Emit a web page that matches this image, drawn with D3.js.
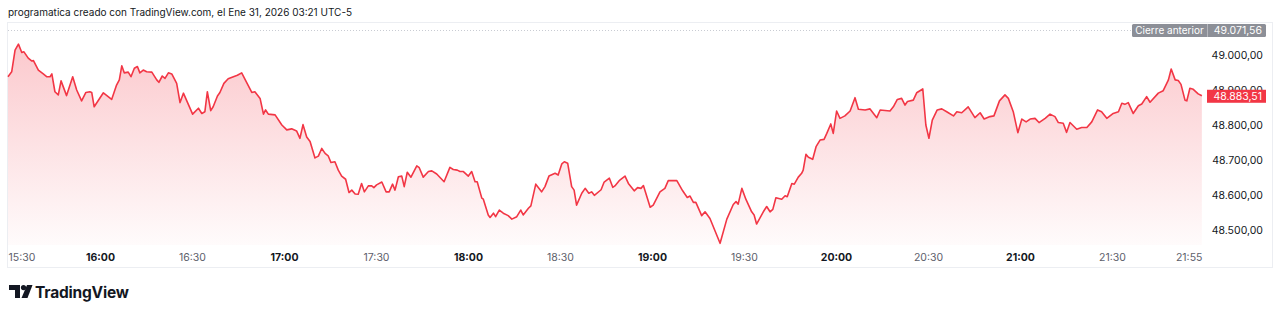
<!DOCTYPE html>
<html>
<head>
<meta charset="utf-8">
<script src="https://cdn.jsdelivr.net/npm/d3@7"></script>
<style>
  html, body { margin: 0; padding: 0; background: #ffffff; }
  svg { display: block; font-family: Inter, "Noto Sans", sans-serif; }
</style>
</head>
<body>
<svg id="chart" width="1280" height="315"></svg>
<script>
// ---------- data ----------
const title = "programatica creado con TradingView.com, el Ene 31, 2026 03:21 UTC-5";
const startTime = "15:30";
// minutes after start
const minutes = [0,1.2,2.3,3.4,4.5,5.2,6.6,7.7,8.3,9.9,11.5,12.6,13.7,14.3,15.3,16.4,17.3,19.1,21.1,22.4,
24.0,25.4,26.7,27.3,28.1,31.1,33.8,35.4,36.3,37.1,37.9,39.2,40.1,41.2,42.2,43.0,44.1,45.2,46.9,48.5,
49.2,50.3,51.2,52.3,53.4,55.0,56.1,57.2,60.2,62.1,63.2,64.2,65.0,66.1,66.9,68.3,69.1,70.4,71.8,73.5,
74.8,76.2,77.8,79.5,80.5,82.2,83.3,84.0,84.9,87.1,89.3,90.9,92.5,94.1,95.2,96.2,97.4,98.5,100.1,101.2,
102.3,103.4,104.4,105.3,106.6,107.7,108.8,110.1,111.2,112.1,113.2,114.2,115.3,116.2,117.5,118.6,119.3,120.2,121.9,123.3,
124.3,125.4,126.2,127.3,128.4,129.2,130.2,131.4,133.3,134.1,135.4,137.1,138.2,139.8,142.2,144.1,145.2,146.5,147.4,148.5,
150.1,151.2,152.3,153.0,154.5,155.0,156.6,157.2,158.3,159.0,160.2,161.5,163.1,164.3,165.9,167.2,168.0,169.7,170.5,172.1,
174.0,175.1,176.4,178.4,179.4,180.6,181.4,182.5,183.8,184.6,185.4,187.1,188.2,189.4,190.3,191.2,193.4,194.4,196.1,197.2,
197.9,199.3,201.2,202.3,204.2,205.3,206.4,207.2,209.4,210.4,212.6,214.2,215.3,218.1,220.0,221.5,222.4,223.5,224.3,226.2,
227.3,228.9,232.2,234.4,236.5,237.4,238.1,239.3,240.6,242.5,243.3,244.1,246.3,247.4,248.5,249.4,250.4,252.3,253.4,254.1,
255.6,256.4,257.7,258.8,259.3,260.2,261.0,262.4,263.5,264.8,266.1,267.0,268.3,269.1,270.2,271.3,272.9,274.6,276.2,277.3,
279.5,281.1,283.3,284.4,287.6,288.7,290.0,291.4,292.5,293.3,295.2,296.3,298.3,299.3,300.3,301.4,303.0,304.5,306.1,308.3,
309.4,311.0,313.1,315.3,317.0,318.3,320.2,321.5,323.3,325.1,326.2,327.8,329.3,330.6,332.0,333.3,334.9,336.2,338.2,339.8,
341.4,342.5,344.1,345.2,346.3,348.5,350.1,351.8,353.4,355.3,356.6,358.3,360.4,362.1,363.2,364.2,365.3,366.9,368.6,369.7,
371.3,372.4,375.1,376.7,378.4,379.3,380.6,381.6,382.5,383.8,384.4,385.4,386.5,388.1,389.3];
const prices = [48938,48952,49014,49031,49007,49009,48991,48983,48984,48957,48946,48938,48938,48946,48895,48886,48926,48884,48938,48900,
48869,48893,48895,48893,48852,48892,48873,48914,48929,48969,48949,48951,48938,48962,48967,48949,48957,48952,48951,48929,
48922,48940,48933,48949,48946,48919,48864,48891,48831,48848,48833,48838,48895,48841,48852,48883,48893,48919,48932,48938,
48942,48949,48922,48893,48895,48876,48831,48843,48831,48829,48800,48786,48789,48783,48762,48801,48766,48753,48706,48711,
48733,48719,48712,48693,48695,48671,48654,48645,48607,48614,48603,48602,48633,48609,48626,48626,48621,48629,48637,48609,
48609,48631,48614,48652,48654,48624,48665,48651,48683,48678,48651,48667,48669,48660,48638,48679,48673,48671,48667,48667,
48654,48667,48638,48638,48591,48588,48543,48536,48548,48538,48557,48548,48541,48531,48538,48557,48543,48562,48569,48631,
48609,48624,48654,48662,48657,48689,48695,48691,48624,48614,48571,48605,48619,48605,48609,48599,48615,48637,48648,48622,
48626,48641,48654,48633,48612,48621,48619,48627,48565,48571,48609,48619,48641,48641,48612,48593,48597,48579,48579,48541,
48552,48533,48462,48531,48573,48581,48574,48619,48588,48552,48543,48517,48552,48567,48552,48559,48592,48588,48598,48595,
48633,48631,48651,48662,48671,48716,48708,48702,48738,48757,48759,48776,48803,48776,48840,48819,48826,48840,48878,48845,
48843,48846,48821,48843,48840,48852,48873,48876,48857,48867,48871,48892,48903,48800,48762,48814,48843,48846,48838,48826,
48838,48835,48852,48821,48835,48817,48824,48826,48869,48886,48876,48838,48778,48817,48809,48817,48819,48807,48819,48831,
48824,48807,48805,48779,48807,48788,48793,48793,48809,48843,48838,48819,48833,48838,48862,48859,48864,48833,48855,48860,
48881,48865,48891,48898,48929,48960,48929,48927,48916,48871,48869,48905,48902,48889,48883.51];
const previousClose = 49071.56;
const previousCloseLabel = "Cierre anterior";
const priceTicks = [48500, 48600, 48700, 48800, 48900, 49000];
const timeTickLabels = ["15:30","16:00","16:30","17:00","17:30","18:00","18:30","19:00","19:30","20:00","20:30","21:00","21:30","21:55"];
const lastPrice = prices[prices.length - 1];

// ---------- helpers ----------
const esLocale = d3.formatLocale({decimal: ",", thousands: ".", grouping: [3], currency: ["", ""]});
const fmtPrice = esLocale.format(",.2f");
const toMin = s => { const [h, m] = s.split(":").map(Number); return h * 60 + m; };
const t0 = toMin(startTime);

const data = minutes.map((m, i) => ({t: m, v: prices[i]}));

// ---------- layout ----------
const svg = d3.select("#chart");
const C = {
  red: "#f23645",
  text: "#131722",
  gray: "#787b86",
  border: "#eceef2"
};

const x = d3.scaleLinear().domain([0, 390]).range([8, 1204]);
const y = d3.scaleLinear().domain([48500, 49000]).range([230, 55]);
const plotBottom = 245;

// frame
svg.append("rect")
  .attr("x", 7.5).attr("y", 22.5).attr("width", 1265).attr("height", 245)
  .attr("fill", "none").attr("stroke", C.border).attr("stroke-width", 1);

// title
svg.append("text")
  .attr("x", 8).attr("y", 15.5)
  .attr("font-size", 10).attr("fill", C.text)
  .text(title);

// gradient
const defs = svg.append("defs");
const grad = defs.append("linearGradient")
  .attr("id", "areaGrad").attr("gradientUnits", "userSpaceOnUse")
  .attr("x1", 0).attr("x2", 0).attr("y1", y(49031)).attr("y2", plotBottom);
grad.append("stop").attr("offset", "0%").attr("stop-color", C.red).attr("stop-opacity", 0.27);
grad.append("stop").attr("offset", "100%").attr("stop-color", C.red).attr("stop-opacity", 0.02);

// previous close dotted line
svg.append("line")
  .attr("x1", 8).attr("x2", 1131)
  .attr("y1", Math.round(y(previousClose)) + 0.5).attr("y2", Math.round(y(previousClose)) + 0.5)
  .attr("stroke", "#c9ccd3").attr("stroke-width", 1).attr("stroke-dasharray", "1,2");

// area + line
const area = d3.area().x(d => x(d.t)).y0(plotBottom).y1(d => y(d.v)).curve(d3.curveLinear);
const line = d3.line().x(d => x(d.t)).y(d => y(d.v)).curve(d3.curveLinear);

svg.append("path").datum(data).attr("d", area).attr("fill", "url(#areaGrad)");
svg.append("path").datum(data).attr("d", line)
  .attr("fill", "none").attr("stroke", C.red).attr("stroke-width", 1.6)
  .attr("stroke-linejoin", "round");

// price axis (right)
const yAxis = d3.axisRight(y).tickValues(priceTicks).tickFormat(fmtPrice).tickSize(0);
const gy = svg.append("g").attr("transform", "translate(1263,0)").call(yAxis);
gy.select(".domain").remove();
gy.selectAll("text")
  .attr("x", 0).attr("text-anchor", "end")
  .attr("font-family", "Inter, 'Noto Sans', sans-serif")
  .attr("font-size", 10.5).attr("fill", C.text);

// time axis (bottom)
const xAxis = d3.axisBottom(x)
  .tickValues(timeTickLabels.map(s => toMin(s) - t0))
  .tickFormat((d, i) => timeTickLabels[i]).tickSize(0);
const gx = svg.append("g").attr("transform", "translate(0,251)").call(xAxis);
gx.select(".domain").remove();
gx.selectAll("text")
  .attr("font-family", "Inter, 'Noto Sans', sans-serif")
  .attr("font-size", 10.5)
  .attr("font-weight", (d, i) => timeTickLabels[i].endsWith(":00") ? 700 : 400)
  .attr("fill", (d, i) => timeTickLabels[i].endsWith(":00") ? C.text : "#5d606b")
  .attr("text-anchor", (d, i) => i === 0 ? "start" : "middle");

// previous close label
const pcY = y(previousClose);
svg.append("rect").attr("x", 1132).attr("y", pcY - 6).attr("width", 134).attr("height", 13)
  .attr("rx", 1.5).attr("fill", "#8c8f97");
svg.append("line").attr("x1", 1207.5).attr("x2", 1207.5).attr("y1", pcY - 6).attr("y2", pcY + 7)
  .attr("stroke", "#b4b6bc").attr("stroke-width", 1);
svg.append("text").attr("x", 1169.5).attr("y", pcY + 3.8).attr("text-anchor", "middle")
  .attr("font-size", 10).attr("fill", "#ffffff").text(previousCloseLabel);
svg.append("text").attr("x", 1262).attr("y", pcY + 3.8).attr("text-anchor", "end")
  .attr("font-size", 10.5).attr("fill", "#ffffff").text(fmtPrice(previousClose));

// last price label
const lpY = y(lastPrice);
svg.append("rect").attr("x", 1207).attr("y", lpY - 6).attr("width", 59).attr("height", 13)
  .attr("fill", C.red);
svg.append("text").attr("x", 1262).attr("y", lpY + 3.8).attr("text-anchor", "end")
  .attr("font-size", 10.5).attr("fill", "#ffffff").text(fmtPrice(lastPrice));

// TradingView logo
const logo = svg.append("g").attr("transform", "translate(9,285)").attr("fill", C.text);
logo.append("path").attr("d", "M0,0 H11 V13 H6 V5 H0 Z");
logo.append("circle").attr("cx", 14.5).attr("cy", 2.6).attr("r", 2.6);
logo.append("path").attr("d", "M18,0 H23.5 L18.5,13 H12.5 Z");
svg.append("text").attr("x", 35).attr("y", 298)
  .attr("font-size", 15.5).attr("font-weight", 700).attr("fill", C.text)
  .attr("letter-spacing", -0.2)
  .text("TradingView");
</script>
</body>
</html>
